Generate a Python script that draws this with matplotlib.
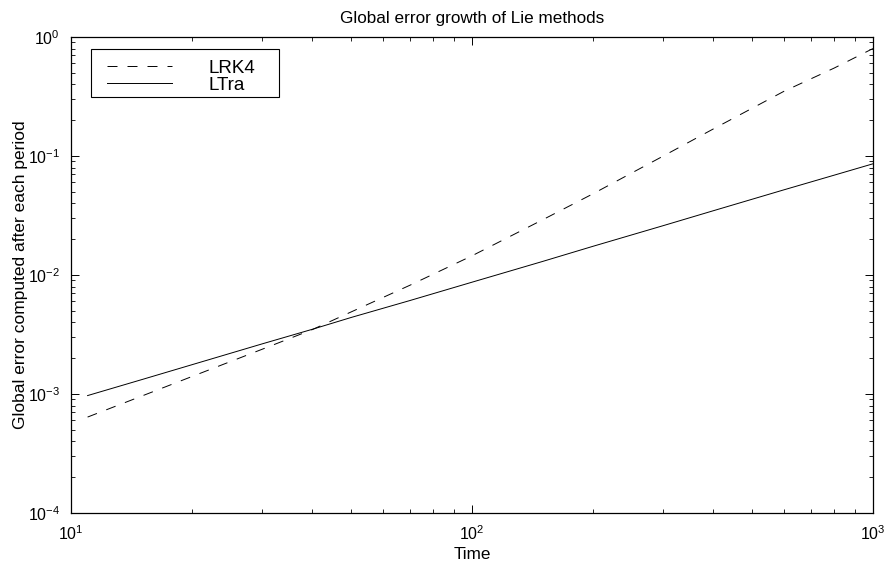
import matplotlib
matplotlib.use("Agg")
import matplotlib.pyplot as plt
from matplotlib.ticker import LogLocator, NullFormatter
from matplotlib.patches import Rectangle

plt.rcParams['font.family'] = ['Liberation Sans', 'DejaVu Sans']
plt.rcParams['mathtext.fontset'] = 'custom'
plt.rcParams['mathtext.rm'] = 'Liberation Sans'
plt.rcParams['mathtext.it'] = 'Liberation Sans:italic'
plt.rcParams['mathtext.bf'] = 'Liberation Sans:bold'
plt.rcParams['lines.scale_dashes'] = False

time = [11, 15, 20, 30, 40, 50, 70, 100, 150, 200, 300, 400, 600, 800, 1000]
err_lrk4 = [6.4e-4, 9.6e-4, 1.4e-3, 2.38e-3, 3.48e-3, 4.9e-3, 8.2e-3, 1.45e-2,
            2.91e-2, 4.8e-2, 0.100, 0.169, 0.35, 0.548, 0.80]
err_ltra = [9.7e-4, 1.32e-3, 1.76e-3, 2.64e-3, 3.5e-3, 4.4e-3, 6.1e-3, 8.7e-3,
            1.3e-2, 1.74e-2, 2.6e-2, 3.47e-2, 5.2e-2, 6.9e-2, 8.6e-2]
labels = ["LRK4", "LTra"]

W, H = 889, 563
fig = plt.figure(figsize=(W/100, H/100), dpi=100)
L, R, T, B = 71, 873, 37, 513
ax = fig.add_axes([L/W, 1-B/H, (R-L)/W, (B-T)/H])

ax.loglog(time, err_lrk4, color='black', lw=0.7, linestyle=(0, (7.2, 7.2)), label=labels[0])
ax.loglog(time, err_ltra, color='black', lw=0.7, linestyle='-', label=labels[1])

ax.set_xlim(10, 1000)
ax.set_ylim(1e-4, 1)
ax.xaxis.set_major_locator(LogLocator(base=10, numticks=10))
ax.yaxis.set_major_locator(LogLocator(base=10, numticks=10))
ax.xaxis.set_minor_locator(LogLocator(base=10, subs=range(2, 10), numticks=20))
ax.yaxis.set_minor_locator(LogLocator(base=10, subs=range(2, 10), numticks=20))
ax.xaxis.set_minor_formatter(NullFormatter())
ax.yaxis.set_minor_formatter(NullFormatter())

ax.tick_params(which='both', direction='in', top=True, right=True, labelsize=11.5, colors='black')
ax.tick_params(which='major', length=6, width=0.7)
ax.tick_params(which='minor', length=3, width=0.6)
ax.tick_params(axis='x', which='major', pad=8)
ax.tick_params(axis='y', which='major', pad=8)
for s in ax.spines.values():
    s.set_linewidth(0.9)

ax.set_title("Global error growth of Lie methods", fontsize=12.3, pad=10)
ax.set_xlabel("Time", fontsize=12.3, labelpad=3)
ax.set_ylabel("Global error computed after each period", fontsize=12.5, labelpad=0)

# legend (entries placed without frame, box drawn around them)
ax_w, ax_h = R - L, B - T
leg = ax.legend(loc='upper left', bbox_to_anchor=((107-L)/ax_w, 1-(59.5-T)/ax_h),
                fontsize=13.5, frameon=False, handlelength=3.47, handletextpad=1.92,
                labelspacing=0.0, borderpad=0, borderaxespad=0)
box = Rectangle(((91-L)/ax_w, 1-(97-T)/ax_h), (279-91)/ax_w, (97-49)/ax_h,
                transform=ax.transAxes, facecolor='white', edgecolor='black',
                linewidth=0.8, zorder=4)
ax.add_patch(box)
leg.set_zorder(5)

fig.savefig("out.png", dpi=100)
